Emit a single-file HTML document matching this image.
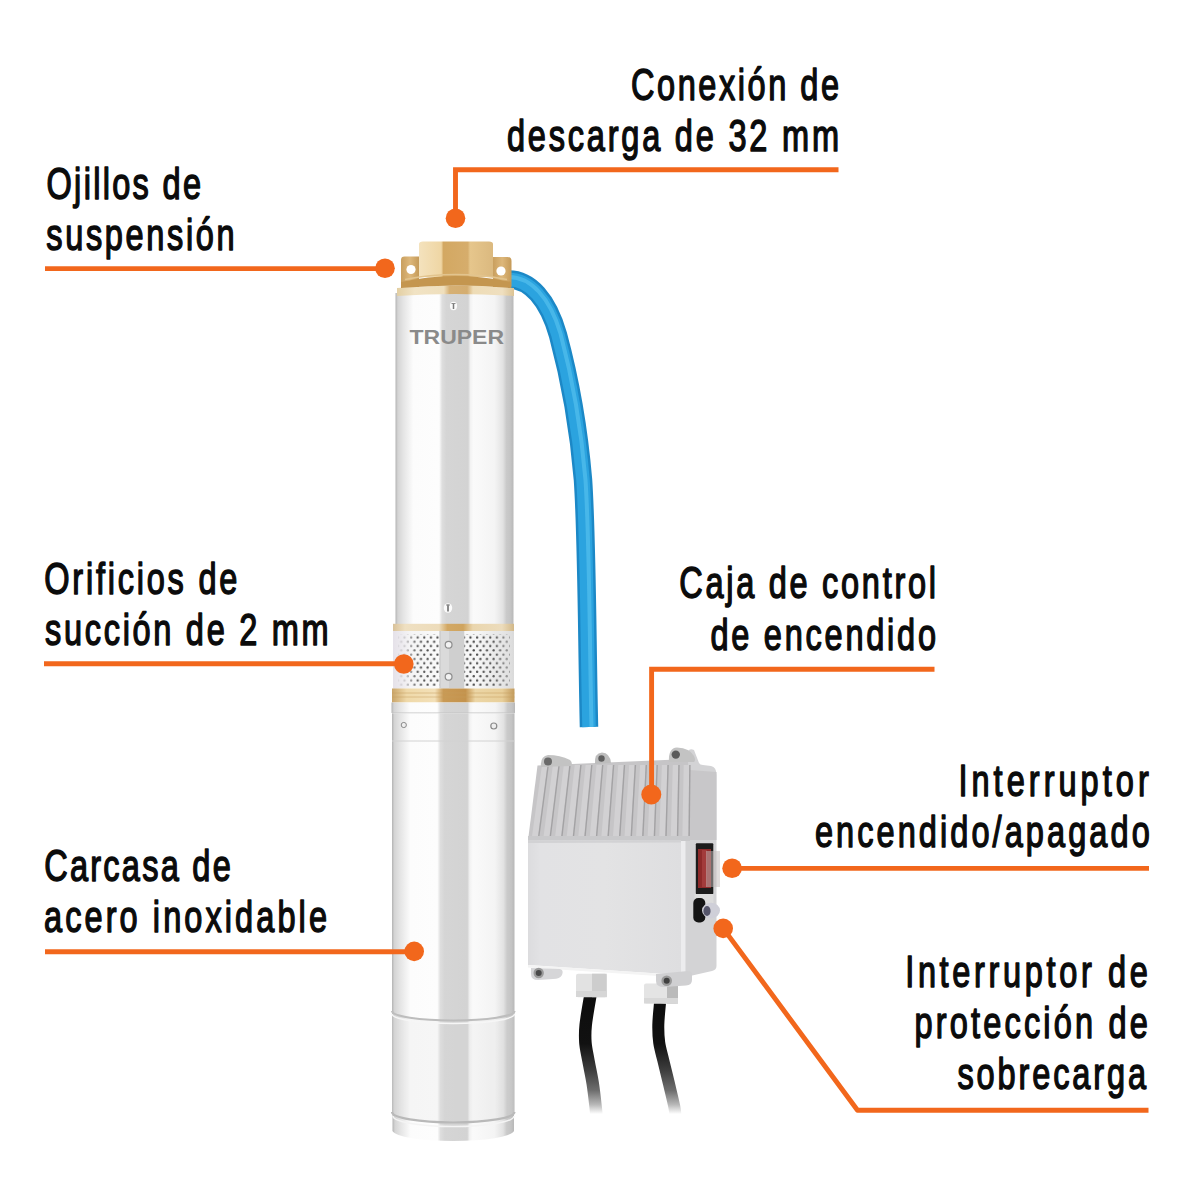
<!DOCTYPE html>
<html>
<head>
<meta charset="utf-8">
<style>
html,body{margin:0;padding:0;background:#fff;}
body{width:1200px;height:1200px;overflow:hidden;position:relative;}
svg{position:absolute;left:0;top:0;display:block;}
.tt{font-family:"Liberation Sans",sans-serif;font-size:46px;fill:#0a0a0a;stroke:#0a0a0a;stroke-width:0.9px;}
</style>
</head>
<body>
<svg width="1200" height="1200" viewBox="0 0 1200 1200">
<defs>
  <linearGradient id="gBody" x1="0" y1="0" x2="1" y2="0">
    <stop offset="0" stop-color="#b3b3b3"/>
    <stop offset="0.02" stop-color="#d4d4d4"/>
    <stop offset="0.065" stop-color="#e4e4e4"/>
    <stop offset="0.15" stop-color="#fcfcfc"/>
    <stop offset="0.37" stop-color="#fdfdfd"/>
    <stop offset="0.395" stop-color="#dedede"/>
    <stop offset="0.43" stop-color="#d5d5d5"/>
    <stop offset="0.615" stop-color="#d3d3d3"/>
    <stop offset="0.635" stop-color="#f2f2f2"/>
    <stop offset="0.66" stop-color="#fafafa"/>
    <stop offset="0.84" stop-color="#f4f4f4"/>
    <stop offset="0.91" stop-color="#e2e2e2"/>
    <stop offset="0.94" stop-color="#cacaca"/>
    <stop offset="0.975" stop-color="#c4c4c4"/>
    <stop offset="1" stop-color="#b8b8b8"/>
  </linearGradient>
  <linearGradient id="gBrass" x1="0" y1="0" x2="1" y2="0">
    <stop offset="0" stop-color="#c9a468"/>
    <stop offset="0.12" stop-color="#efd9a9"/>
    <stop offset="0.35" stop-color="#f3e0b8"/>
    <stop offset="0.42" stop-color="#c99a55"/>
    <stop offset="0.6" stop-color="#c4934d"/>
    <stop offset="0.68" stop-color="#ecd6a6"/>
    <stop offset="0.9" stop-color="#e8cf9a"/>
    <stop offset="1" stop-color="#c29a5c"/>
  </linearGradient>
  <linearGradient id="gDome" x1="0" y1="0" x2="0" y2="1">
    <stop offset="0" stop-color="#c79c5c"/>
    <stop offset="0.6" stop-color="#dcb77c"/>
    <stop offset="1" stop-color="#b98c4c"/>
  </linearGradient>
  <linearGradient id="gHex" x1="0" y1="0" x2="1" y2="0">
    <stop offset="0" stop-color="#f4e2bd"/>
    <stop offset="0.3" stop-color="#efd6a4"/>
    <stop offset="0.33" stop-color="#d3a862"/>
    <stop offset="0.66" stop-color="#d6ad6c"/>
    <stop offset="0.69" stop-color="#e6c68c"/>
    <stop offset="1" stop-color="#dbb97f"/>
  </linearGradient>
  <linearGradient id="gMesh" x1="0" y1="0" x2="1" y2="0">
    <stop offset="0" stop-color="#d9d9d9"/>
    <stop offset="0.1" stop-color="#f1f1f1"/>
    <stop offset="0.4" stop-color="#fafafa"/>
    <stop offset="0.7" stop-color="#f6f6f6"/>
    <stop offset="1" stop-color="#d4d4d4"/>
  </linearGradient>
  <pattern id="pHoles" x="393" y="631" width="6.6" height="8.6" patternUnits="userSpaceOnUse">
    <circle cx="1.6" cy="2.2" r="1.15" fill="#3c3c3c"/>
    <circle cx="4.9" cy="6.5" r="1.15" fill="#3c3c3c"/>
  </pattern>
  <linearGradient id="gHose" x1="0" y1="0" x2="1" y2="0">
    <stop offset="0" stop-color="#1b7fb8"/>
    <stop offset="0.3" stop-color="#2c9bd6"/>
    <stop offset="0.6" stop-color="#35a8e0"/>
    <stop offset="1" stop-color="#2a95cf"/>
  </linearGradient>
  <linearGradient id="gMeshFade" x1="0" y1="0" x2="1" y2="0">
    <stop offset="0" stop-color="#e6e2ea" stop-opacity="0.95"/>
    <stop offset="0.1" stop-color="#f0eef2" stop-opacity="0.8"/>
    <stop offset="0.2" stop-color="#ffffff" stop-opacity="0.15"/>
    <stop offset="0.6" stop-color="#ffffff" stop-opacity="0"/>
    <stop offset="0.85" stop-color="#ffffff" stop-opacity="0.15"/>
    <stop offset="1" stop-color="#dcdcdc" stop-opacity="0.7"/>
  </linearGradient>
  <linearGradient id="gBrassL" x1="0" y1="0" x2="1" y2="0">
    <stop offset="0" stop-color="#d9c29a"/>
    <stop offset="0.1" stop-color="#efe0c2"/>
    <stop offset="0.38" stop-color="#eddcbb"/>
    <stop offset="0.45" stop-color="#d2a864"/>
    <stop offset="0.58" stop-color="#cfa45f"/>
    <stop offset="0.66" stop-color="#ead6ae"/>
    <stop offset="0.9" stop-color="#ecdcbc"/>
    <stop offset="1" stop-color="#d2b888"/>
  </linearGradient>
</defs>

<!-- GRAPHICS -->
<g id="pump">
  <!-- hose -->
  <path d="M508,279.5 C530,279 548,300 558,335 C568,372 578,420 583,480 C587,540 587,640 589,727" fill="none" stroke="#1c88c6" stroke-width="18.5"/>
  <path d="M508,279.5 C530,279 548,300 558,335 C568,372 578,420 583,480 C587,540 587,640 589,727" fill="none" stroke="#2ba3df" stroke-width="13.5"/>
  <path d="M508,277 C531,276.5 550,298 560.5,333.5 C570.5,371 580.5,420 585.5,480 C589.5,540 589.5,640 591.5,727" fill="none" stroke="#52bdec" stroke-width="4" opacity="0.75"/>
  <!-- upper body -->
  <rect x="395.5" y="293" width="118" height="332" fill="url(#gBody)"/>
  <!-- top rim -->
  <defs>
    <linearGradient id="gRim" x1="0" y1="0" x2="1" y2="0">
      <stop offset="0" stop-color="#e3cfa3"/>
      <stop offset="0.15" stop-color="#f1e3c4"/>
      <stop offset="0.4" stop-color="#efdfbd"/>
      <stop offset="0.45" stop-color="#d6b074"/>
      <stop offset="0.6" stop-color="#d4ad70"/>
      <stop offset="0.65" stop-color="#eedcb6"/>
      <stop offset="0.9" stop-color="#efdfbf"/>
      <stop offset="1" stop-color="#dcc393"/>
    </linearGradient>
    <linearGradient id="gEar" x1="0" y1="0" x2="1" y2="0">
      <stop offset="0" stop-color="#c99f5e"/>
      <stop offset="0.5" stop-color="#ddb77a"/>
      <stop offset="1" stop-color="#c59a58"/>
    </linearGradient>
  </defs>
  <path d="M397,288 Q455,283 514,288 L514,296 Q455,292 397,296 Z" fill="url(#gRim)"/>
  <!-- ears -->
  <path d="M401,287 L401,260 Q401,256.6 404.5,256.6 L419,256.6 L419,287 Z" fill="url(#gEar)"/>
  <path d="M493,287 L493,257 L507.5,257 Q511.5,257 511.5,261 L511.5,287 Z" fill="url(#gEar)"/>
  <circle cx="411" cy="269.5" r="4.6" fill="#fff"/>
  <circle cx="501" cy="271" r="4.6" fill="#fff"/>
  <!-- hex nut -->
  <path d="M419,277 L419,244 Q419,241.4 423,241.4 L489,241.4 Q493,241.4 493,244 L493,277 Z" fill="url(#gHex)"/>
  <!-- dome band -->
  <path d="M401,282 Q455,270 511,282 L511,288 Q455,283 401,288 Z" fill="#c4964f"/>
  <path d="M405,279.5 Q455,269.5 507,279.5" fill="none" stroke="#e2c48e" stroke-width="1.3"/>
  <!-- top screw -->
  <ellipse cx="453.5" cy="306" rx="3.6" ry="4.2" fill="#fbfbfb"/>
  <path d="M453.5,303 L453.5,309" stroke="#7a7a7a" stroke-width="1.5"/>
  <path d="M451.5,303.5 L455.5,303.5" stroke="#8a8a8a" stroke-width="1"/>
  <!-- TRUPER -->
  <text x="409.5" y="344" font-family="Liberation Sans, sans-serif" font-weight="bold" font-size="21" fill="#8a8a8a" textLength="94.5" lengthAdjust="spacingAndGlyphs">TRUPER</text>
  <!-- mid screw -->
  <ellipse cx="448" cy="608" rx="4.2" ry="4.8" fill="#fbfbfb"/>
  <path d="M448,604.5 L448,611.5" stroke="#6e6e6e" stroke-width="1.6"/>
  <path d="M446,605 L450,605" stroke="#8a8a8a" stroke-width="1"/>
  <!-- upper brass ring -->
  <rect x="393" y="623.8" width="121" height="7.2" fill="url(#gBrassL)"/>
  <!-- mesh -->
  <rect x="393" y="631" width="121" height="57.5" fill="url(#gMesh)"/>
  <rect x="398" y="634" width="112" height="52" fill="url(#pHoles)"/>
  <rect x="393" y="631" width="121" height="57.5" fill="url(#gMeshFade)"/>
  <rect x="439.3" y="631" width="25" height="57.5" fill="#cfcfcf"/>
  <rect x="441" y="631" width="8" height="57.5" fill="#dadada"/>
  <circle cx="448.6" cy="644.8" r="3.4" fill="#f2f2f2" stroke="#8d8d8d" stroke-width="1.2"/>
  <circle cx="448.6" cy="676.8" r="3.4" fill="#f2f2f2" stroke="#8d8d8d" stroke-width="1.2"/>
  <!-- lower brass ring -->
  <rect x="392" y="688.5" width="122.5" height="14" fill="url(#gBrass)"/>
  <line x1="392" y1="693" x2="514.5" y2="693" stroke="#c79e5e" stroke-width="0.8" opacity="0.6"/>
  <line x1="392" y1="697" x2="514.5" y2="697" stroke="#c79e5e" stroke-width="0.8" opacity="0.6"/>
  <!-- silver ring -->
  <rect x="391.5" y="702.5" width="123.5" height="10.5" fill="url(#gBody)"/>
  <line x1="392" y1="713" x2="514.5" y2="713" stroke="#c2c2c2" stroke-width="1"/>
  <!-- lower body -->
  <path d="M392,713.5 L514.5,713.5 L514.5,1112 A61.25,10.5 0 0 1 392,1112 Z" fill="url(#gBody)"/>
  <path d="M392,1012 A61.25,9.5 0 0 0 514.5,1012 L514.5,1112 A61.25,10.5 0 0 1 392,1112 Z" fill="#d8d8d8" opacity="0.18"/>
  <line x1="392" y1="741" x2="514.5" y2="741" stroke="#d2d2d2" stroke-width="1"/>
  <circle cx="403.8" cy="725" r="2.6" fill="#eee" stroke="#8a8a8a" stroke-width="1"/>
  <circle cx="493.8" cy="726" r="3" fill="#eee" stroke="#8a8a8a" stroke-width="1.2"/>
  <path d="M392,1011 A61.25,9.5 0 0 0 514.5,1011" fill="none" stroke="#bdbdbd" stroke-width="2.2"/>
  <path d="M392,1014 A61.25,9.5 0 0 0 514.5,1014" fill="none" stroke="#f6f6f6" stroke-width="1.5"/>
  <!-- bottom cap -->
  <path d="M392.5,1112 A61,10.5 0 0 0 514,1112 L514,1131 A61,11 0 0 1 392.5,1131 Z" fill="url(#gBody)"/>
  <path d="M392,1112 A61.25,10.5 0 0 0 514.5,1112" fill="none" stroke="#b9b9b9" stroke-width="2.2"/>
  <path d="M393,1116 A60.5,10.5 0 0 0 514,1116" fill="none" stroke="#f4f4f4" stroke-width="1.5"/>
</g>

<g id="box">
  <!-- cables -->
  <defs>
    <linearGradient id="gCab" gradientUnits="userSpaceOnUse" x1="0" y1="997" x2="0" y2="1114">
      <stop offset="0" stop-color="#0d0d0d"/>
      <stop offset="0.4" stop-color="#111111"/>
      <stop offset="0.62" stop-color="#3c3c3c"/>
      <stop offset="0.8" stop-color="#6e6e6e"/>
      <stop offset="0.92" stop-color="#b8b8b8"/>
      <stop offset="1" stop-color="#ffffff"/>
    </linearGradient>
  </defs>
  <path d="M590.3,996.0 C589.5,1000.8 586.5,1017.2 585.7,1025.0 C584.9,1032.8 585.0,1036.7 585.4,1042.5 C585.8,1048.3 587.1,1053.2 588.3,1060.0 C589.5,1066.8 591.5,1075.5 592.7,1083.3 C593.9,1091.1 595.0,1101.2 595.6,1106.7 C596.2,1112.2 596.4,1114.5 596.5,1116.0" fill="none" stroke="url(#gCab)" stroke-width="12.5"/>
  <path d="M660.0,1003.0 C659.7,1006.7 658.4,1018.4 658.3,1025.0 C658.2,1031.6 658.4,1036.7 659.2,1042.5 C660.0,1048.3 661.6,1053.2 663.2,1060.0 C664.8,1066.8 666.9,1075.2 668.8,1083.0 C670.6,1090.8 673.2,1101.2 674.3,1106.7 C675.4,1112.2 675.3,1114.5 675.5,1116.0" fill="none" stroke="url(#gCab)" stroke-width="12"/>
  <!-- side panel -->
  <path d="M686,759 L688,751 Q690,748 694,750 L699,763 Q700,765 703,765 L711,766 Q716.5,767 716.5,775 L716.5,966 Q716.5,970 712,971 L690,976 L681,975 L681,840 L689,840 Z" fill="#d3d3d5"/>
  <path d="M689,770 L716.5,772 L716.5,840 L689,840 Z" fill="#c8c7c9"/>
  <path d="M681,840 L685.5,840 L685.5,972 L681,973 Z" fill="#ececee"/>
  <!-- lid -->
  <path d="M537.5,765.5 L688,759 L690,840 L528,840.5 Z" fill="#c6c5c7"/>
  <g>
    <path d="M542.0,765 L547.5,765 L537.5,840 L531.5,840 Z" fill="#d2d1d3"/>
    <line x1="548.2" y1="765" x2="538.3" y2="840" stroke="#a3a2a4" stroke-width="1.4"/>
    <path d="M552.9,765 L558.4,765 L549.1,840 L543.1,840 Z" fill="#d2d1d3"/>
    <line x1="559.1" y1="765" x2="549.9" y2="840" stroke="#a3a2a4" stroke-width="1.4"/>
    <path d="M563.8,765 L569.3,765 L560.7,840 L554.7,840 Z" fill="#d2d1d3"/>
    <line x1="570.0" y1="765" x2="561.5" y2="840" stroke="#a3a2a4" stroke-width="1.4"/>
    <path d="M574.7,765 L580.2,765 L572.3,840 L566.3,840 Z" fill="#d2d1d3"/>
    <line x1="580.9" y1="765" x2="573.1" y2="840" stroke="#a3a2a4" stroke-width="1.4"/>
    <path d="M585.6,765 L591.1,765 L583.9,840 L577.9,840 Z" fill="#d2d1d3"/>
    <line x1="591.8" y1="765" x2="584.7" y2="840" stroke="#a3a2a4" stroke-width="1.4"/>
    <path d="M596.5,765 L602.0,765 L595.5,840 L589.5,840 Z" fill="#d2d1d3"/>
    <line x1="602.7" y1="765" x2="596.3" y2="840" stroke="#a3a2a4" stroke-width="1.4"/>
    <path d="M607.4,765 L612.9,765 L607.1,840 L601.1,840 Z" fill="#d2d1d3"/>
    <line x1="613.6" y1="765" x2="607.9" y2="840" stroke="#a3a2a4" stroke-width="1.4"/>
    <path d="M618.3,765 L623.8,765 L618.7,840 L612.7,840 Z" fill="#d2d1d3"/>
    <line x1="624.5" y1="765" x2="619.5" y2="840" stroke="#a3a2a4" stroke-width="1.4"/>
    <path d="M629.2,765 L634.7,765 L630.3,840 L624.3,840 Z" fill="#d2d1d3"/>
    <line x1="635.4" y1="765" x2="631.1" y2="840" stroke="#a3a2a4" stroke-width="1.4"/>
    <path d="M640.1,765 L645.6,765 L641.9,840 L635.9,840 Z" fill="#d2d1d3"/>
    <line x1="646.3" y1="765" x2="642.7" y2="840" stroke="#a3a2a4" stroke-width="1.4"/>
    <path d="M651.0,765 L656.5,765 L653.5,840 L647.5,840 Z" fill="#d2d1d3"/>
    <line x1="657.2" y1="765" x2="654.3" y2="840" stroke="#a3a2a4" stroke-width="1.4"/>
    <path d="M661.9,765 L667.4,765 L665.1,840 L659.1,840 Z" fill="#d2d1d3"/>
    <line x1="668.1" y1="765" x2="665.9" y2="840" stroke="#a3a2a4" stroke-width="1.4"/>
    <path d="M672.8,765 L678.3,765 L676.7,840 L670.7,840 Z" fill="#d2d1d3"/>
    <line x1="679.0" y1="765" x2="677.5" y2="840" stroke="#a3a2a4" stroke-width="1.4"/>
    <path d="M683.7,765 L689.2,765 L688.3,840 L682.3,840 Z" fill="#d2d1d3"/>
    <line x1="689.9" y1="765" x2="689.1" y2="840" stroke="#a3a2a4" stroke-width="1.4"/>
  </g>
  <path d="M528,836 L690,836 L690,841 L528,841 Z" fill="#c9c9cb"/>
  <!-- bosses -->
  <path d="M541,767 Q540,756 548,755 Q560,755 570,760 Q573,763 571,766 Z" fill="#c3c3c3"/>
  <circle cx="548" cy="761.5" r="4" fill="#6a6a6a"/>
  <path d="M595,764 Q594,753 602,752.5 Q610,753 611,763 Z" fill="#bdbdbd"/>
  <circle cx="601.5" cy="758.5" r="3.2" fill="#5e5e5e"/>
  <path d="M669,762 Q668,748 677,747.5 Q690,748 694,756 Q696,760 694,762 Z" fill="#c3c3c3"/>
  <circle cx="675.8" cy="754.6" r="4.2" fill="#5a5a5a"/>
  <!-- front face -->
  <defs>
    <linearGradient id="gFront" x1="0" y1="0" x2="1" y2="0">
      <stop offset="0" stop-color="#dcdcde"/>
      <stop offset="0.08" stop-color="#e2e2e4"/>
      <stop offset="0.5" stop-color="#e3e3e4"/>
      <stop offset="1" stop-color="#dedee0"/>
    </linearGradient>
  </defs>
  <path d="M528,840.5 L681,840 L681,975 L528,965 Z" fill="url(#gFront)"/>
  <path d="M528,840.5 L681,840 L681,842.5 L528,843 Z" fill="#d2d2d4"/>
  <path d="M528,965 L681,975 L681,977.5 L528,967.5 Z" fill="#f4f4f4"/>
  <!-- glands -->
  <rect x="576" y="973.7" width="30.7" height="23.5" rx="2" fill="#e2e2e2"/>
  <rect x="592" y="973.7" width="14.7" height="23.5" fill="#cdcdcd"/>
  <rect x="576" y="991" width="30.7" height="6" fill="#d6d6d6"/>
  <rect x="644" y="983.5" width="34" height="20" rx="2" fill="#e4e4e4"/>
  <rect x="667" y="983.5" width="11" height="20" fill="#bababa"/>
  <rect x="644" y="998" width="34" height="5.5" fill="#d8d8d8"/>
  <!-- bottom screws -->
  <path d="M531,968 L560,969 Q564,970 562,975 Q560,979 553,979 L538,980 Q531,980 531,974 Z" fill="#d6d6d8"/>
  <circle cx="538.7" cy="973" r="5.2" fill="#9a9a9a"/>
  <circle cx="538.7" cy="973" r="3" fill="#4a4a4a"/>
  <path d="M656,974 L688,971 Q692,971 692,975 L692,980 Q692,985 686,985.5 L664,987 Q656,987 656,981 Z" fill="#d0d0d2"/>
  <circle cx="666.7" cy="980.8" r="5.3" fill="#9a9a9a"/>
  <circle cx="666.7" cy="980.8" r="3" fill="#404040"/>
  <!-- switch -->
  <rect x="695.8" y="843.3" width="17.5" height="51" rx="1" fill="#1c1c1c"/>
  <rect x="698" y="849" width="13" height="39" fill="#8e2a2a"/>
  <rect x="702" y="850" width="5" height="37" fill="#a84040" opacity="0.8"/>
  <rect x="706" y="851" width="14" height="36" fill="#c4bcbc" opacity="0.5"/>
  <rect x="694.5" y="894" width="19" height="10" fill="#dcdcdc"/>
  <!-- breaker -->
  <rect x="693.3" y="898" width="12" height="24.5" rx="5" fill="#141414"/>
  <ellipse cx="711" cy="910.5" rx="9" ry="7.8" fill="#cfcfd8"/>
  <ellipse cx="707" cy="911" rx="3.6" ry="5" fill="#55556a"/>
</g>

<!-- LEADER LINES -->
<g fill="#f2671c" stroke="#f2671c" stroke-width="4.9" stroke-linecap="butt">
  <polyline fill="none" points="838.5,169.8 455.5,169.8 455.5,218"/>
  <circle cx="455.5" cy="218.3" r="9.8" stroke="none"/>
  <line x1="45" y1="268.6" x2="385" y2="268.6"/>
  <circle cx="385" cy="268.3" r="9.8" stroke="none"/>
  <line x1="44" y1="663.8" x2="404" y2="663.8"/>
  <circle cx="403.8" cy="664" r="9.8" stroke="none"/>
  <line x1="45" y1="951.7" x2="414" y2="951.7"/>
  <circle cx="414.2" cy="951.4" r="9.8" stroke="none"/>
  <polyline fill="none" points="934.5,669.3 651.6,669.3 651.6,795"/>
  <circle cx="651.3" cy="794.5" r="10" stroke="none"/>
  <line x1="732" y1="868.4" x2="1149" y2="868.4"/>
  <circle cx="732.1" cy="868.2" r="9.8" stroke="none"/>
  <polyline fill="none" stroke-linejoin="round" points="723.2,928.4 857.5,1110.3 1148.5,1110.3"/>
  <circle cx="723.2" cy="928.4" r="9.8" stroke="none"/>
</g>

<g font-family="Liberation Sans, sans-serif" font-size="45.2" font-weight="normal" fill="#0b0b0b" stroke="#0b0b0b" stroke-width="1.5" stroke-linejoin="round">
  <text transform="translate(631.00,99.50) scale(0.72,1)" textLength="289.03" lengthAdjust="spacing">Conexión de</text>
  <text transform="translate(507.00,150.80) scale(0.72,1)" textLength="461.11" lengthAdjust="spacing">descarga de 32 mm</text>
  <text transform="translate(46.50,198.80) scale(0.72,1)" textLength="214.58" lengthAdjust="spacing">Ojillos de</text>
  <text transform="translate(46.30,250.30) scale(0.72,1)" textLength="261.67" lengthAdjust="spacing">suspensión</text>
  <text transform="translate(44.20,593.60) scale(0.72,1)" textLength="268.33" lengthAdjust="spacing">Orificios de</text>
  <text transform="translate(45.00,644.90) scale(0.72,1)" textLength="393.89" lengthAdjust="spacing">succión de 2 mm</text>
  <text transform="translate(44.20,880.80) scale(0.72,1)" textLength="259.10" lengthAdjust="spacing">Carcasa de</text>
  <text transform="translate(44.00,932.10) scale(0.72,1)" textLength="393.06" lengthAdjust="spacing">acero inoxidable</text>
  <text transform="translate(679.20,598.30) scale(0.72,1)" textLength="356.67" lengthAdjust="spacing">Caja de control</text>
  <text transform="translate(710.40,649.90) scale(0.72,1)" textLength="313.33" lengthAdjust="spacing">de encendido</text>
  <text transform="translate(958.40,796.00) scale(0.72,1)" textLength="264.38" lengthAdjust="spacing">Interruptor</text>
  <text transform="translate(814.90,847.00) scale(0.72,1)" textLength="465.07" lengthAdjust="spacing">encendido/apagado</text>
  <text transform="translate(905.20,986.90) scale(0.72,1)" textLength="337.08" lengthAdjust="spacing">Interruptor de</text>
  <text transform="translate(914.40,1038.00) scale(0.72,1)" textLength="324.31" lengthAdjust="spacing">protección de</text>
  <text transform="translate(957.40,1089.00) scale(0.72,1)" textLength="261.94" lengthAdjust="spacing">sobrecarga</text>
</g>
</svg>
</body>
</html>
